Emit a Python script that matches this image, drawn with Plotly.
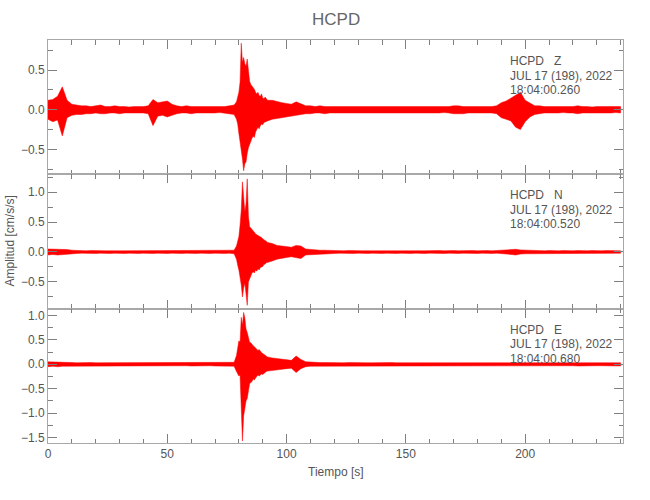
import plotly.graph_objects as go
from plotly.subplots import make_subplots

# ---------------- data ----------------
# time bins [s]: 2 s before the main arrival, 0.5 s through it, 2 s after
t_bins = [
    0, 2, 4, 6, 8, 10, 12, 14, 16, 18,
    20, 22, 24, 26, 28, 30, 32, 34, 36, 38,
    40, 42, 44, 46, 48, 50, 52, 54, 56, 58,
    60, 62, 64, 66, 68, 70, 72, 74, 76, 78,
    79, 79.5, 80, 80.5, 81, 81.5, 82, 82.5, 83, 83.5,
    84, 84.5, 85, 85.5, 86, 86.5, 87, 87.5, 88, 88.5,
    89, 89.5, 90, 90.5, 91, 91.5, 92,
    94, 96, 98, 100, 102, 104, 106, 108, 110, 112,
    114, 116, 118, 120, 122, 124, 126, 128, 130, 132,
    134, 136, 138, 140, 142, 144, 146, 148, 150, 152,
    154, 156, 158, 160, 162, 164, 166, 168, 170, 172,
    174, 176, 178, 180, 182, 184, 186, 188, 190, 192,
    194, 196, 198, 200, 202, 204, 206, 208, 210, 212,
    214, 216, 218, 220, 222, 224, 226, 228, 230, 232,
    234, 236, 238, 240,
]

# per-bin maximum / minimum amplitude [cm/s/s]
z_hi = [
    0.12, 0.13, 0.17, 0.29, 0.12, 0.07, 0.06, 0.05, 0.05, 0.04,
    0.05, 0.06, 0.04, 0.04, 0.05, 0.04, 0.04, 0.035, 0.04, 0.04,
    0.04, 0.05, 0.13, 0.09, 0.10, 0.11, 0.07, 0.05, 0.04, 0.05,
    0.04, 0.04, 0.04, 0.035, 0.04, 0.04, 0.04, 0.04, 0.05, 0.06,
    0.10, 0.16, 0.22, 0.35, 0.84, 0.60, 0.66, 0.58, 0.55, 0.64,
    0.50, 0.36, 0.32, 0.30, 0.28, 0.26, 0.22, 0.20, 0.22, 0.18,
    0.17, 0.20, 0.15, 0.14, 0.16, 0.13, 0.12,
    0.12, 0.10, 0.09, 0.08, 0.07, 0.10, 0.07, 0.05, 0.05, 0.04,
    0.05, 0.04, 0.04, 0.04, 0.04, 0.035, 0.04, 0.04, 0.035, 0.035,
    0.04, 0.035, 0.035, 0.04, 0.035, 0.04, 0.035, 0.04, 0.04, 0.035,
    0.04, 0.04, 0.04, 0.035, 0.04, 0.04, 0.04, 0.04, 0.05, 0.05,
    0.04, 0.04, 0.04, 0.035, 0.04, 0.04, 0.04, 0.05, 0.09, 0.11,
    0.15, 0.19, 0.22, 0.12, 0.08, 0.05, 0.05, 0.04, 0.04, 0.04,
    0.035, 0.04, 0.04, 0.04, 0.05, 0.04, 0.04, 0.035, 0.04, 0.04,
    0.04, 0.035, 0.04, 0.04,
]
z_lo = [
    -0.12, -0.15, -0.13, -0.33, -0.10, -0.07, -0.06, -0.06, -0.05, -0.05,
    -0.04, -0.05, -0.05, -0.04, -0.04, -0.05, -0.04, -0.04, -0.035, -0.04,
    -0.04, -0.05, -0.20, -0.08, -0.07, -0.09, -0.07, -0.05, -0.04, -0.04,
    -0.05, -0.04, -0.035, -0.04, -0.04, -0.04, -0.035, -0.04, -0.05, -0.06,
    -0.12, -0.18, -0.30, -0.45, -0.52, -0.62, -0.77, -0.68, -0.66, -0.55,
    -0.48, -0.42, -0.40, -0.36, -0.33, -0.35, -0.28, -0.25, -0.22, -0.24,
    -0.20, -0.18, -0.19, -0.16, -0.15, -0.15, -0.14,
    -0.12, -0.11, -0.10, -0.09, -0.08, -0.07, -0.06, -0.05, -0.05, -0.04,
    -0.04, -0.05, -0.04, -0.04, -0.04, -0.035, -0.04, -0.04, -0.04, -0.035,
    -0.04, -0.04, -0.035, -0.04, -0.04, -0.035, -0.04, -0.04, -0.04, -0.035,
    -0.04, -0.04, -0.035, -0.04, -0.04, -0.04, -0.035, -0.04, -0.05, -0.05,
    -0.05, -0.04, -0.04, -0.04, -0.04, -0.04, -0.04, -0.05, -0.10, -0.12,
    -0.14, -0.22, -0.25, -0.15, -0.09, -0.06, -0.05, -0.04, -0.04, -0.04,
    -0.04, -0.035, -0.04, -0.04, -0.05, -0.04, -0.04, -0.04, -0.035, -0.04,
    -0.04, -0.04, -0.035, -0.04,
]
n_hi = [
    0.05, 0.05, 0.04, 0.05, 0.04, 0.03, 0.025, 0.025, 0.02, 0.025,
    0.02, 0.025, 0.02, 0.02, 0.025, 0.02, 0.02, 0.02, 0.025, 0.02,
    0.02, 0.025, 0.02, 0.02, 0.025, 0.02, 0.02, 0.025, 0.02, 0.02,
    0.025, 0.02, 0.02, 0.025, 0.02, 0.02, 0.025, 0.02, 0.025, 0.03,
    0.10, 0.20, 0.26, 0.45, 0.70, 1.17, 0.95, 0.67, 0.80, 1.22,
    0.60, 0.42, 0.40, 0.38, 0.36, 0.33, 0.30, 0.29, 0.28, 0.26,
    0.25, 0.24, 0.22, 0.20, 0.19, 0.18, 0.16,
    0.14, 0.11, 0.10, 0.09, 0.08, 0.11, 0.10, 0.05, 0.04, 0.035,
    0.03, 0.03, 0.025, 0.025, 0.025, 0.02, 0.025, 0.02, 0.025, 0.02,
    0.02, 0.025, 0.02, 0.02, 0.025, 0.02, 0.02, 0.025, 0.02, 0.02,
    0.025, 0.02, 0.02, 0.025, 0.02, 0.025, 0.02, 0.025, 0.025, 0.02,
    0.025, 0.02, 0.025, 0.02, 0.025, 0.025, 0.02, 0.025, 0.025, 0.03,
    0.035, 0.045, 0.035, 0.03, 0.025, 0.025, 0.02, 0.02, 0.025, 0.02,
    0.02, 0.025, 0.02, 0.02, 0.025, 0.02, 0.02, 0.025, 0.02, 0.02,
    0.025, 0.02, 0.02, 0.02,
]
n_lo = [
    -0.05, -0.04, -0.05, -0.04, -0.04, -0.03, -0.025, -0.02, -0.025, -0.02,
    -0.025, -0.02, -0.02, -0.025, -0.02, -0.02, -0.025, -0.02, -0.02, -0.025,
    -0.02, -0.02, -0.025, -0.02, -0.02, -0.025, -0.02, -0.02, -0.025, -0.02,
    -0.02, -0.025, -0.02, -0.02, -0.025, -0.02, -0.02, -0.025, -0.02, -0.03,
    -0.12, -0.22, -0.30, -0.40, -0.55, -0.75, -0.60, -0.52, -0.70, -0.89,
    -0.50, -0.45, -0.42, -0.35, -0.33, -0.35, -0.30, -0.32, -0.28, -0.30,
    -0.26, -0.25, -0.24, -0.21, -0.20, -0.18, -0.17,
    -0.15, -0.12, -0.10, -0.09, -0.08, -0.10, -0.11, -0.05, -0.04, -0.035,
    -0.03, -0.025, -0.03, -0.025, -0.02, -0.025, -0.02, -0.025, -0.02, -0.02,
    -0.025, -0.02, -0.02, -0.025, -0.02, -0.02, -0.025, -0.02, -0.02, -0.025,
    -0.02, -0.02, -0.025, -0.02, -0.025, -0.02, -0.025, -0.02, -0.02, -0.025,
    -0.02, -0.025, -0.02, -0.025, -0.02, -0.02, -0.025, -0.02, -0.025, -0.03,
    -0.04, -0.05, -0.035, -0.03, -0.025, -0.02, -0.025, -0.02, -0.02, -0.025,
    -0.02, -0.02, -0.025, -0.02, -0.02, -0.025, -0.02, -0.02, -0.025, -0.02,
    -0.02, -0.025, -0.02, -0.02,
]
e_hi = [
    0.05, 0.05, 0.04, 0.04, 0.035, 0.035, 0.03, 0.035, 0.03, 0.035,
    0.03, 0.03, 0.035, 0.03, 0.035, 0.03, 0.03, 0.035, 0.03, 0.03,
    0.035, 0.03, 0.035, 0.03, 0.03, 0.035, 0.03, 0.03, 0.035, 0.03,
    0.03, 0.035, 0.03, 0.035, 0.03, 0.03, 0.035, 0.03, 0.035, 0.04,
    0.18, 0.30, 0.48, 0.45, 0.96, 0.80, 1.06, 0.95, 0.72, 0.65,
    0.55, 0.45, 0.44, 0.40, 0.38, 0.36, 0.33, 0.31, 0.28, 0.30,
    0.26, 0.24, 0.22, 0.20, 0.18, 0.16, 0.15,
    0.13, 0.12, 0.11, 0.10, 0.08, 0.17, 0.10, 0.05, 0.04, 0.04,
    0.035, 0.035, 0.03, 0.035, 0.03, 0.03, 0.035, 0.03, 0.03, 0.035,
    0.03, 0.03, 0.035, 0.03, 0.03, 0.035, 0.03, 0.03, 0.035, 0.03,
    0.035, 0.035, 0.03, 0.035, 0.03, 0.035, 0.035, 0.04, 0.035, 0.04,
    0.035, 0.04, 0.035, 0.04, 0.035, 0.04, 0.04, 0.04, 0.035, 0.04,
    0.04, 0.035, 0.035, 0.03, 0.035, 0.03, 0.03, 0.035, 0.03, 0.03,
    0.035, 0.03, 0.03, 0.035, 0.03, 0.03, 0.035, 0.03, 0.03, 0.035,
    0.03, 0.03, 0.035, 0.03,
]
e_lo = [
    -0.05, -0.04, -0.05, -0.04, -0.035, -0.03, -0.035, -0.03, -0.035, -0.03,
    -0.03, -0.035, -0.03, -0.03, -0.035, -0.03, -0.035, -0.03, -0.03, -0.035,
    -0.03, -0.03, -0.035, -0.03, -0.035, -0.03, -0.03, -0.035, -0.03, -0.03,
    -0.035, -0.03, -0.03, -0.035, -0.03, -0.035, -0.03, -0.03, -0.035, -0.04,
    -0.15, -0.20, -0.24, -0.22, -0.60, -1.57, -1.06, -0.90, -0.75, -0.70,
    -0.55, -0.40, -0.38, -0.35, -0.30, -0.32, -0.28, -0.24, -0.22, -0.24,
    -0.22, -0.20, -0.21, -0.18, -0.17, -0.15, -0.14,
    -0.12, -0.11, -0.10, -0.09, -0.08, -0.17, -0.09, -0.05, -0.04, -0.04,
    -0.035, -0.03, -0.035, -0.03, -0.03, -0.035, -0.03, -0.03, -0.035, -0.03,
    -0.03, -0.035, -0.03, -0.03, -0.035, -0.03, -0.035, -0.03, -0.03, -0.035,
    -0.03, -0.035, -0.03, -0.03, -0.035, -0.035, -0.04, -0.035, -0.04, -0.035,
    -0.04, -0.035, -0.04, -0.035, -0.04, -0.04, -0.04, -0.035, -0.04, -0.04,
    -0.035, -0.04, -0.035, -0.03, -0.03, -0.035, -0.03, -0.03, -0.035, -0.03,
    -0.03, -0.035, -0.03, -0.03, -0.035, -0.03, -0.03, -0.035, -0.03, -0.03,
    -0.035, -0.03, -0.03, -0.035,
]

station = "HCPD"
components = ["Z", "N", "E"]
date_label = "JUL 17 (198), 2022"
start_times = ["18:04:00.260", "18:04:00.520", "18:04:00.680"]
y_ranges = [[-0.814, 0.880], [-0.945, 1.295], [-1.61, 1.137]]
x_ticks = [0, 50, 100, 150, 200]

# ---------------- figure ----------------
FONT = "Liberation Sans, Arial, sans-serif"
TXT = "#555555"
AX = "#a8a8a8"
TK = "#808080"

fig = make_subplots(rows=3, cols=1, shared_xaxes=True, vertical_spacing=0)

series = [(z_hi, z_lo), (n_hi, n_lo), (e_hi, e_lo)]
for r, (hi, lo) in enumerate(series, start=1):
    n = min(len(t_bins), len(hi), len(lo))
    t = list(t_bins[:n])
    xs = t + t[::-1]
    ys = list(hi[:n]) + list(lo[:n])[::-1]
    fig.add_trace(
        go.Scatter(x=xs, y=ys, mode="lines", fill="toself", fillcolor="#ff0000",
                   line=dict(color="#ff0000", width=0.5),
                   hoverinfo="skip", showlegend=False),
        row=r, col=1,
    )

fig.update_xaxes(
    range=[0, 241], showline=True, linecolor=AX, linewidth=1, mirror="allticks",
    ticks="inside", ticklen=9, tickcolor=TK, tickwidth=1,
    tickmode="array", tickvals=x_ticks, ticktext=[str(v) for v in x_ticks],
    minor=dict(dtick=10, tick0=0, ticks="inside", ticklen=4.5, tickcolor=TK),
    showgrid=False, zeroline=False, automargin=False,
    tickfont=dict(family=FONT, size=12, color=TXT),
)
for r in range(1, 4):
    fig.update_yaxes(
        range=y_ranges[r - 1], showline=True, linecolor=AX, linewidth=1, mirror="allticks",
        ticks="inside", ticklen=9, tickcolor=TK, tickwidth=1,
        dtick=0.5, tick0=0, tickformat=".1f",
        minor=dict(dtick=0.25, tick0=0, ticks="inside", ticklen=4.5, tickcolor=TK),
        showgrid=False, zeroline=False, automargin=False,
        tickfont=dict(family=FONT, size=12, color=TXT),
        row=r, col=1,
    )

annotations = []
offsets = [21, 35.5, 50]
for r in range(1, 4):
    yref = "y domain" if r == 1 else f"y{r} domain"
    lines = [f"{station}\u00a0\u00a0\u00a0{components[r - 1]}", date_label, start_times[r - 1]]
    for off, txt in zip(offsets, lines):
        annotations.append(dict(
            text=txt, xref="paper", x=0.80, xanchor="left",
            yref=yref, y=1 - off / 134.33, yanchor="middle",
            showarrow=False, font=dict(family=FONT, size=12, color=TXT),
        ))

annotations.append(dict(text=station, xref="paper", x=0.5, xanchor="center",
                        yref="paper", y=1 + 20 / 403, yanchor="middle", showarrow=False,
                        font=dict(family=FONT, size=17, color="#666666")))
annotations.append(dict(text="Tiempo [s]", xref="paper", x=0.5, xanchor="center",
                        yref="paper", y=-29 / 403, yanchor="middle", showarrow=False,
                        font=dict(family=FONT, size=12, color=TXT)))
annotations.append(dict(text="Amplitud [cm/s/s]", xref="paper", x=-39 / 575, xanchor="center",
                        yref="paper", y=0.5, yanchor="middle", textangle=-90, showarrow=False,
                        font=dict(family=FONT, size=12, color=TXT)))

fig.update_layout(
    width=650, height=500, autosize=False,
    margin=dict(l=48, r=27, t=40, b=57, pad=0),
    paper_bgcolor="white", plot_bgcolor="white",
    font=dict(family=FONT, size=12, color=TXT),
    annotations=annotations,
    showlegend=False,
)

fig.write_html("out.html", config={"displayModeBar": False},
               post_script="document.body.style.margin='0px';")
